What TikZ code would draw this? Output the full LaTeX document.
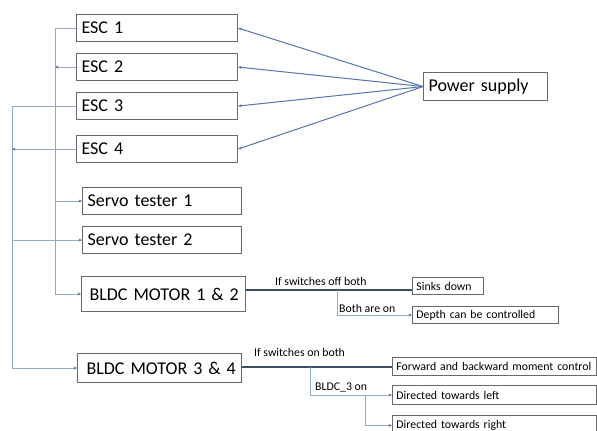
\documentclass[tikz,border=0pt]{standalone}
\usepackage{fontspec}
\setmainfont{Carlito}
\usetikzlibrary{arrows.meta}
\definecolor{feedblue}{RGB}{84,118,176}
\definecolor{busblue}{RGB}{150,170,200}
\definecolor{tipblue}{RGB}{80,115,175}
\definecolor{trunk}{RGB}{62,78,102}
\definecolor{boxgray}{RGB}{105,105,105}

\begin{document}
\begin{tikzpicture}[x=1pt,y=-1pt,
  box/.style={draw=boxgray, line width=1.1pt, anchor=north west, inner xsep=5pt,
    inner ysep=0pt, align=left, text=black, font=\fontsize{18}{20}\selectfont},
  smallbox/.style={box, line width=0.9pt, font=\fontsize{11.8}{14}\selectfont},
  feed/.style={draw=feedblue, line width=1pt},
  bus/.style={draw=busblue, line width=0.9pt},
  trunkline/.style={draw=trunk, line width=1.8pt},
  tip/.style={-{Stealth[length=3.5pt,width=3pt,color=tipblue]}},
  lbl/.style={anchor=base west, inner sep=0pt, font=\fontsize{11.8}{14}\selectfont}]

\useasboundingbox (0,0) rectangle (597,431);
\clip (0,0) rectangle (597,431);
\fill[white] (0,0) rectangle (597,431);

% speed controllers and power
\node[box, text width=151pt, minimum height=27pt] (esc1) at (76,14) {\mbox{ESC 1}};
\node[box, text width=151pt, minimum height=27pt] (esc2) at (76,53) {\mbox{ESC 2}};
\node[box, text width=151pt, minimum height=27pt] (esc3) at (76,92) {\mbox{ESC 3}};
\node[box, text width=151pt, minimum height=27pt] (esc4) at (76,135) {\mbox{ESC 4}};
\node[box, text width=114pt, minimum height=28pt] (power) at (423,72) {\mbox{Power supply}};

% servo testers and motors
\node[box, text width=149pt, minimum height=27pt] (servo1) at (82,187) {\mbox{Servo tester 1}};
\node[box, text width=149pt, minimum height=27pt] (servo2) at (82,226) {\mbox{Servo tester 2}};
\node[box, inner xsep=8pt, text width=148pt, minimum height=35pt] (bldc12) at (81,276) {\mbox{BLDC MOTOR 1 \& 2}};
\node[box, inner xsep=9pt, text width=146pt, minimum height=29pt] (bldc34) at (77,353) {\mbox{BLDC MOTOR 3 \& 4}};

% outcomes
\node[smallbox, inner xsep=4pt, text width=63pt, minimum height=17pt] (sinks) at (412,277) {\mbox{Sinks down}};
\node[smallbox, inner xsep=4pt, text width=138pt, minimum height=17pt] (depth) at (412,306) {\mbox{Depth can be controlled}};
\node[smallbox, inner xsep=4pt, text width=196pt, minimum height=18pt] (fwd) at (392,357) {\mbox{Forward and backward moment control}};
\node[smallbox, inner xsep=4pt, text width=196pt, minimum height=19pt] (left) at (392,385) {\mbox{Directed towards left}};
\node[smallbox, inner xsep=4pt, text width=196pt, minimum height=20pt] (right) at (392,415) {\mbox{Directed towards right}};

% power feeds
\coordinate (ps) at (power.west);
\foreach \e in {esc1,esc2,esc3,esc4}
  \draw[feed,tip] (ps) -- (\e.east);

% signal buses on the left
\coordinate (ib) at (55,0);
\coordinate (ob) at (12,0);
\draw[bus,tip] (esc1.west) -| (ib |- bldc12.west) -- (bldc12.west);
\draw[bus,tip] (esc2.west) -- (esc2.west -| ib);
\draw[bus,tip] (servo1.west -| ib) -- (servo1.west);
\draw[bus,tip] (esc3.west) -| (ob |- bldc34.west) -- (bldc34.west);
\draw[bus,tip] (esc4.west) -- (esc4.west -| ob);
\draw[bus,tip] (servo2.west -| ob) -- (servo2.west);

% motors 1 & 2
\coordinate (j12) at (337,290);
\draw[trunkline] (bldc12.east |- j12) -- (sinks.west |- j12);
\draw[bus,tip] (j12) |- (depth.west);
\node[lbl] (l12a) at (275,285.5) {If switches off both};
\node[lbl] (l12b) at (339,312.5) {Both are on};

% motors 3 & 4
\coordinate (j34) at (310,367);
\coordinate (k34) at (365,394.5);
\draw[trunkline] (bldc34.east |- j34) -- (fwd.west |- j34);
\draw[bus,tip] (j34) |- (left.west);
\draw[bus,tip] (k34) |- (right.west);
\node[lbl] (l34a) at (254,356.5) {If switches on both};
\node[lbl] (l34b) at (315,390) {BLDC\_3 on};
\end{tikzpicture}
\end{document}
